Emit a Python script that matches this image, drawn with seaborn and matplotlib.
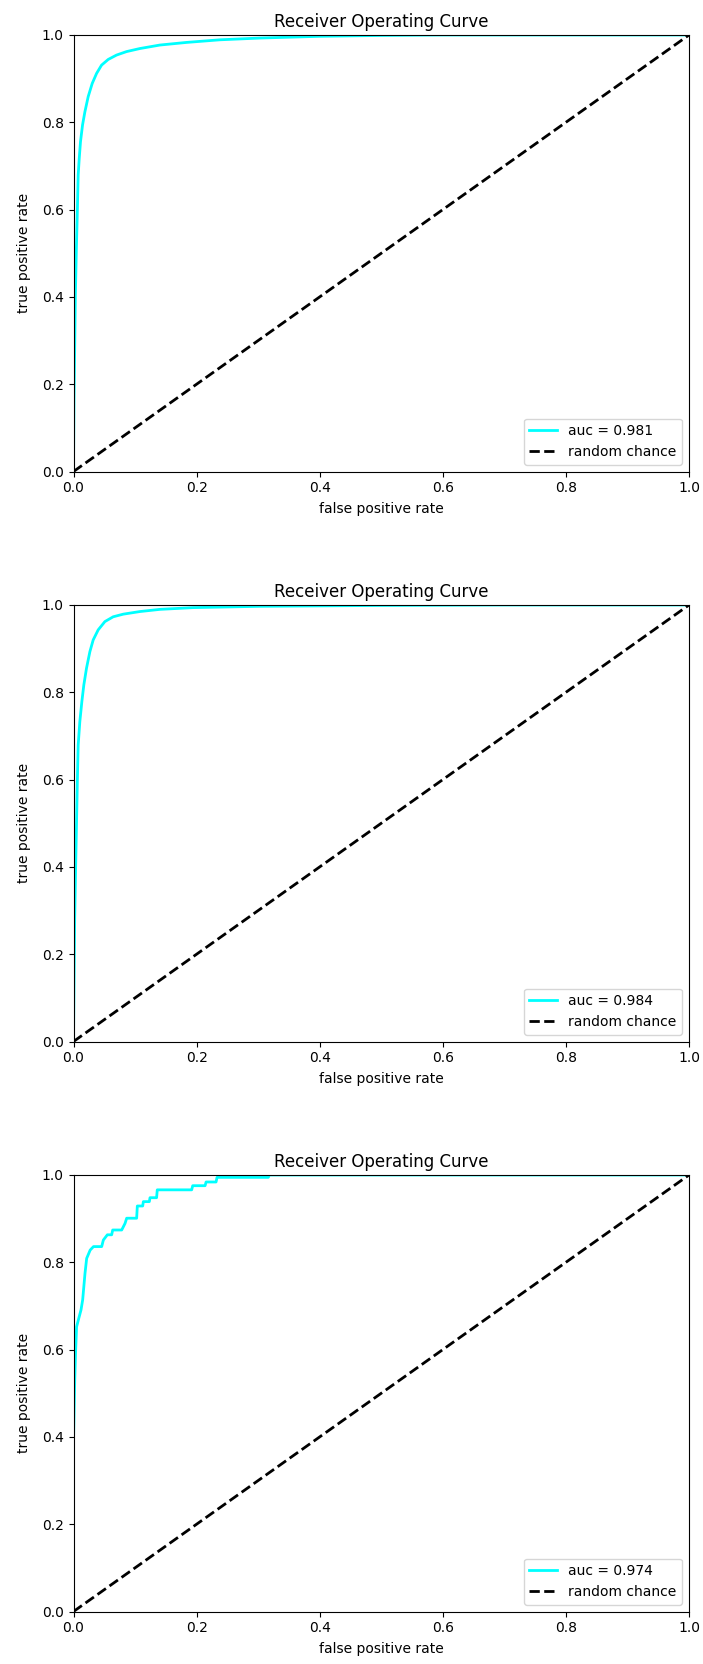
import matplotlib
matplotlib.use("Agg")
import matplotlib.pyplot as plt
import seaborn as sns
import pandas as pd

# ROC points for the three evaluated models
fpr_a = [0.0, 0.0008, 0.0019, 0.003, 0.0046, 0.0063, 0.0076, 0.0093, 0.0114,
         0.0147, 0.0185, 0.0239, 0.0304, 0.0375, 0.0456, 0.0564, 0.0699, 0.0862,
         0.1079, 0.1404, 0.1837, 0.2379, 0.3029, 0.40, 0.50, 0.60, 1.0]
tpr_a = [0.0, 0.164, 0.279, 0.401, 0.507, 0.599, 0.679, 0.717, 0.756,
         0.794, 0.824, 0.859, 0.889, 0.912, 0.931, 0.944, 0.954, 0.962,
         0.969, 0.977, 0.983, 0.989, 0.993, 0.997, 0.999, 1.0, 1.0]
auc_a = 0.981

fpr_b = [0.0, 0.0008, 0.0019, 0.0035, 0.0063, 0.0076, 0.0103, 0.0136, 0.0168,
         0.0211, 0.0266, 0.032, 0.0401, 0.0510, 0.0645, 0.0808, 0.1079, 0.1404,
         0.1945, 0.3029, 0.50, 0.70, 1.0]
tpr_b = [0.0, 0.126, 0.279, 0.401, 0.599, 0.679, 0.733, 0.779, 0.817,
         0.855, 0.893, 0.920, 0.943, 0.962, 0.973, 0.979, 0.985, 0.990,
         0.994, 0.997, 0.999, 1.0, 1.0]
auc_b = 0.984

fpr_c = [0.0, 0.0, 0.002, 0.0035, 0.005, 0.0079, 0.0122, 0.0149, 0.0187, 0.0214,
         0.0271, 0.0325, 0.0458, 0.0485, 0.0550, 0.0620, 0.0637, 0.0783, 0.0837,
         0.0864, 0.1026, 0.1037, 0.1124, 0.1135, 0.1232, 0.1243, 0.1350, 0.1361,
         0.1920, 0.1937, 0.2138, 0.2154, 0.2316, 0.2332, 0.3165, 0.3181, 1.0]
tpr_c = [0.0, 0.39, 0.53, 0.599, 0.652, 0.668, 0.691, 0.714, 0.775, 0.809,
         0.828, 0.836, 0.836, 0.851, 0.863, 0.863, 0.874, 0.874, 0.889,
         0.901, 0.901, 0.929, 0.929, 0.939, 0.939, 0.948, 0.948, 0.966,
         0.966, 0.9755, 0.9755, 0.984, 0.984, 0.9946, 0.9946, 1.0, 1.0]
auc_c = 0.974

chance = [0.0, 1.0]
tick_vals = [0.0, 0.2, 0.4, 0.6, 0.8, 1.0]

curves = [(fpr_a, tpr_a, auc_a), (fpr_b, tpr_b, auc_b), (fpr_c, tpr_c, auc_c)]

fig = plt.figure(figsize=(7.03, 16.64), dpi=100)
W, H = 703.0, 1664.0
left, width, height = 73.5, 615.5, 436.5
bottoms = [471.5, 1041.5, 1611.5]

for (fpr, tpr, auc), bot in zip(curves, bottoms):
    ax = fig.add_axes([left / W, 1 - bot / H, width / W, height / H])
    df = pd.DataFrame({"fpr": fpr, "tpr": tpr})
    sns.lineplot(data=df, x="fpr", y="tpr", ax=ax, color="cyan", linewidth=2,
                 estimator=None, sort=False, label="auc = %.3f" % auc)
    sns.lineplot(x=chance, y=chance, ax=ax, color="black", linewidth=2,
                 linestyle="--", estimator=None, sort=False, label="random chance")
    ax.set_xlim(0, 1)
    ax.set_ylim(0, 1)
    ax.set_xticks(tick_vals)
    ax.set_yticks(tick_vals)
    ax.set_xlabel("false positive rate", fontsize=10, labelpad=5)
    ax.set_ylabel("true positive rate", fontsize=10, labelpad=8)
    ax.set_title("Receiver Operating Curve", fontsize=12)
    ax.legend(loc="lower right", fontsize=10)

fig.savefig("out.png", dpi=100)
